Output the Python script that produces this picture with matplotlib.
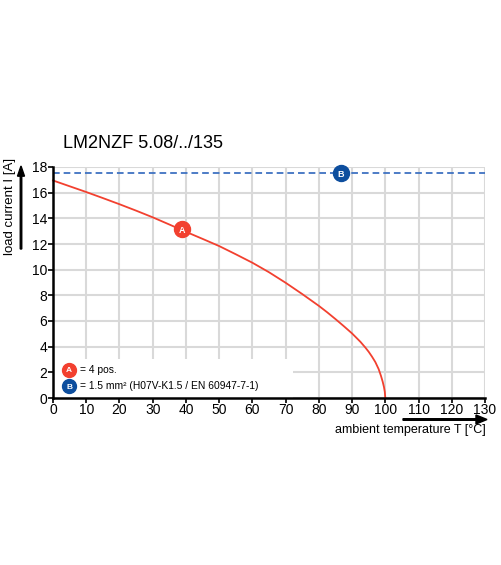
import matplotlib
matplotlib.use("Agg")
import matplotlib.pyplot as plt
from matplotlib.patches import Rectangle, FancyArrow

plt.rcParams['font.family'] = ['Liberation Sans', 'DejaVu Sans']

# Data
temp_A = [0, 5, 10, 15, 20, 25, 30, 35, 40, 45, 50, 55, 60, 65, 70, 75, 80, 82.5, 85, 87.5,
          90, 92.5, 94, 95, 96, 97, 98, 98.7, 99.2, 99.6, 99.85, 100]
current_A = [16.95, 16.5, 16.05, 15.58, 15.1, 14.6, 14.08, 13.52, 12.95, 12.4, 11.84, 11.2, 10.54,
             9.8, 8.98, 8.1, 7.18, 6.68, 6.15, 5.6, 5.03, 4.38, 3.93, 3.6, 3.22, 2.8, 2.25,
             1.72, 1.28, 0.85, 0.48, 0.0]
limit_B = 17.5
marker_A = (38.7, 13.15)
marker_B = (86.7, 17.5)
xticks = list(range(0, 131, 10))
yticks = list(range(0, 19, 2))
title = "LM2NZF 5.08/../135"
xlabel = "ambient temperature T [°C]"
ylabel = "load current I [A]"
legend_A = "= 4 pos."
legend_B = "= 1.5 mm² (H07V-K1.5 / EN 60947-7-1)"

RED = "#f2402f"
BLUE_DARK = "#0d4e9e"
BLUE_LINE = "#3f72c2"
GRID = "#d9d9d9"

fig = plt.figure(figsize=(5.01, 5.65), dpi=100)
ax = fig.add_axes([53/501, 1-398/565, 432/501, 231/565])
ax.set_xlim(0, 130)
ax.set_ylim(0, 18)
ax.set_xticks(xticks)
ax.set_yticks(yticks)
ax.grid(True, color=GRID, linewidth=1.5, zorder=0)
ax.set_axisbelow(True)
for s in ['top', 'right']:
    ax.spines[s].set_visible(False)
for s in ['left', 'bottom']:
    ax.spines[s].set_linewidth(1.8)
    ax.spines[s].set_color('black')
    ax.spines[s].set_zorder(5)
ax.tick_params(axis='both', length=3.5, width=1.2, labelsize=10)
ax.tick_params(axis='x', pad=0.0)
ax.tick_params(axis='y', pad=0.8)

# white legend box over the grid
ax.add_patch(Rectangle((0, 0), 72.2, 3.04, facecolor='white', edgecolor='none', zorder=1))

ax.axhline(limit_B, color=BLUE_LINE, linestyle=(0, (3.7, 2.2)), linewidth=1.3, zorder=2)
ax.plot(temp_A, current_A, color=RED, linewidth=1.3, zorder=3, clip_on=False,
        solid_joinstyle='round')

def badge(x, y, letter, color, ms=11.5, fs=6.5):
    ax.plot([x], [y], marker='o', markersize=ms, color=color, markeredgecolor=color, zorder=4, clip_on=False)
    ax.text(x, y, letter, color='white', fontsize=fs, fontweight='bold', ha='center', va='center_baseline', zorder=5)

badge(*marker_A, "A", RED)
badge(*marker_B, "B", BLUE_DARK)

# legend entries
badge(4.9, 2.2, "A", RED, ms=10, fs=6)
ax.text(8.2, 2.2, legend_A, fontsize=7.4, va='center', ha='left', zorder=5)
badge(4.9, 0.9, "B", BLUE_DARK, ms=10, fs=6)
ax.text(8.2, 0.9, legend_B, fontsize=7.4, va='center', ha='left', zorder=5)

fig.text(63/501, 1-143/565, title, fontsize=13, ha='left', va='center')
fig.text(10/501, 1-206/565, ylabel, fontsize=9.5, rotation=90, ha='center', va='center')
fig.text(486/501, 1-430/565, xlabel, fontsize=9, ha='right', va='center')

# arrows
fig.add_artist(FancyArrow(21/501, 1-249/565, 0, 83/565, width=0.003, head_width=0.014,
                          head_length=0.018, length_includes_head=True, color='black',
                          transform=fig.transFigure))
fig.add_artist(FancyArrow(403/501, 1-419.5/565, 84/501, 0, width=0.0028, head_width=0.016,
                          head_length=0.022, length_includes_head=True, color='black',
                          transform=fig.transFigure))

fig.savefig("out.png", dpi=100, facecolor='white')
